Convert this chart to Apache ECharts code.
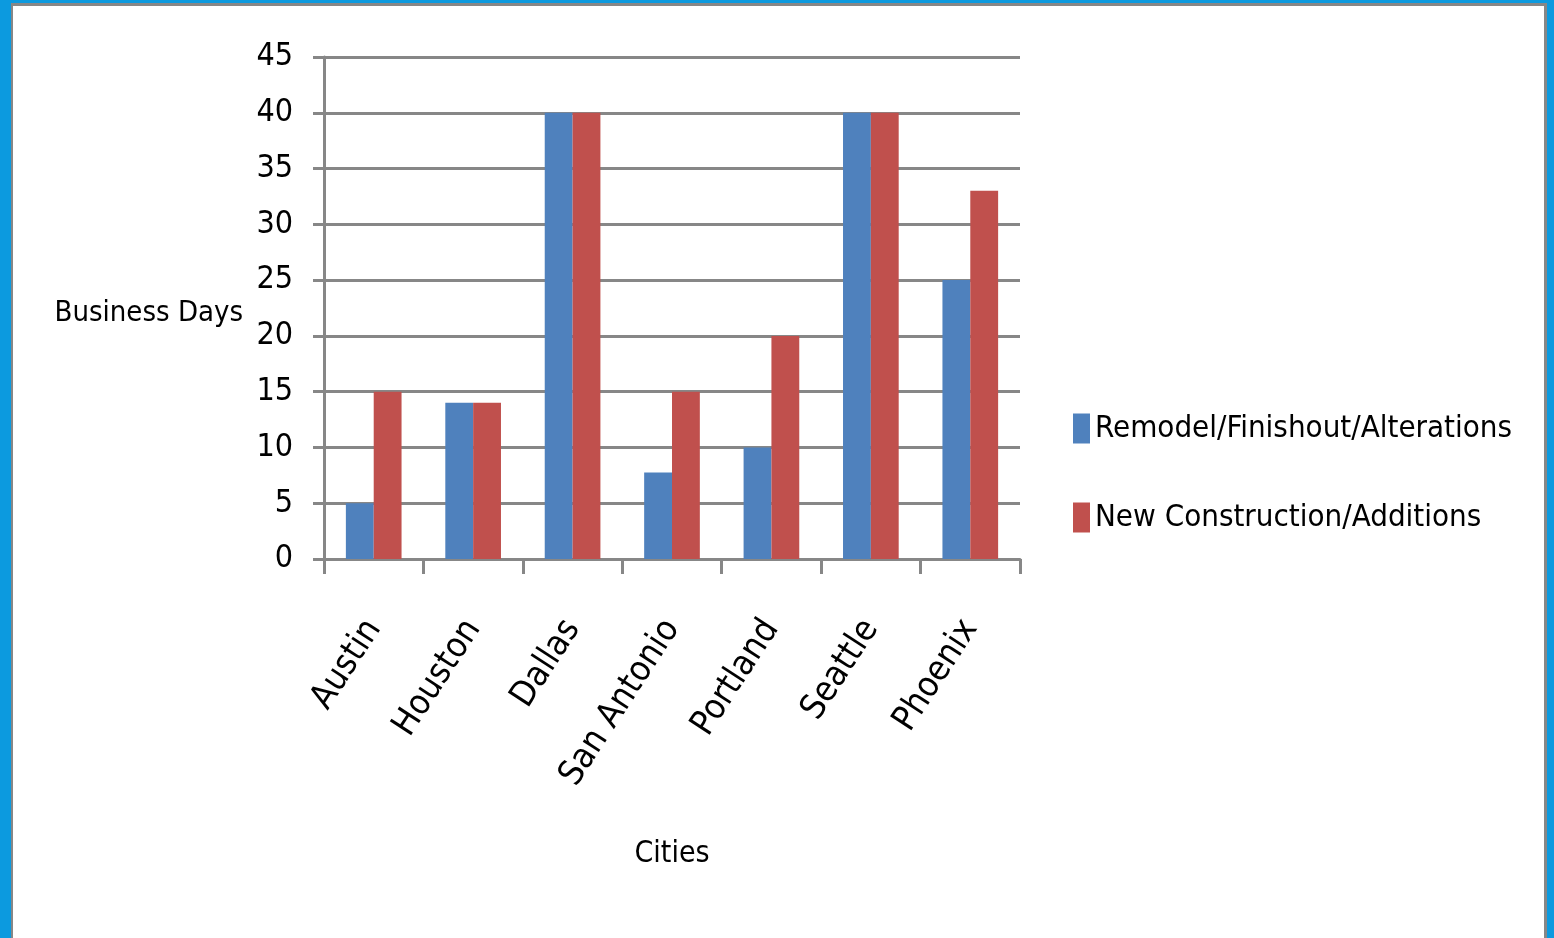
<!DOCTYPE html>
<html>
<head>
<meta charset="utf-8">
<script src="https://cdn.jsdelivr.net/npm/echarts@6/dist/echarts.min.js"></script>
<style>
  html, body { margin: 0; padding: 0; width: 1554px; height: 938px; overflow: hidden; background: #0C9ADF; }
  #frame { position: absolute; left: 11px; top: 3px; width: 1531px; height: 940px; background: #ffffff;
           border-left: 2px solid #878787; border-top: 3px solid #878787; border-right: 3px solid #878787; }
  #chart { position: absolute; left: 0; top: 0; width: 1554px; height: 938px; }
</style>
</head>
<body>
<div id="frame"></div>
<div id="chart"></div>
<script>
const categories = ['Austin', 'Houston', 'Dallas', 'San Antonio', 'Portland', 'Seattle', 'Phoenix'];
const seriesNames = ['Remodel/Finishout/Alterations', 'New Construction/Additions'];
const remodel = [5, 14, 40, 7.75, 10, 40, 25];
const newConstruction = [15, 14, 40, 15, 20, 40, 33];
const yTicks = { min: 0, max: 45, interval: 5 };

const FONT = "'DejaVu Sans Condensed', 'DejaVu Sans', sans-serif";
const GREY = '#878787';

const chart = echarts.init(document.getElementById('chart'), null, { renderer: 'canvas' });
chart.setOption({
  backgroundColor: 'transparent',
  animation: false,
  color: ['#4F81BD', '#C0504D'],
  grid: { left: 324, right: 534, top: 57, bottom: 379, containLabel: false },
  legend: {
    orient: 'vertical',
    left: 1073,
    top: 413,
    padding: 0,
    itemWidth: 17,
    itemHeight: 30,
    itemGap: 58,
    icon: 'rect',
    textStyle: { fontFamily: FONT, fontSize: 31, color: '#000' },
    data: seriesNames
  },
  xAxis: {
    type: 'category',
    data: categories,
    name: 'Cities',
    nameLocation: 'middle',
    nameGap: 280,
    nameTextStyle: { fontFamily: FONT, fontSize: 30, color: '#000' },
    axisLine: { lineStyle: { color: GREY, width: 3 } },
    axisTick: { show: true, length: 15, lineStyle: { color: GREY, width: 3 } },
    axisLabel: { rotate: 57, margin: 64, fontFamily: FONT, fontSize: 35, color: '#000', interval: 0 }
  },
  yAxis: {
    type: 'value',
    min: yTicks.min,
    max: yTicks.max,
    interval: yTicks.interval,
    name: 'Business Days',
    nameLocation: 'middle',
    nameRotate: 0,
    nameGap: 81,
    nameTextStyle: { fontFamily: FONT, fontSize: 29, color: '#000', align: 'right', verticalAlign: 'top', lineHeight: 10 },
    axisLine: { show: true, lineStyle: { color: GREY, width: 3 } },
    axisTick: { show: true, length: 11, lineStyle: { color: GREY, width: 3 } },
    axisLabel: { margin: 31, fontFamily: FONT, fontSize: 32, color: '#000' },
    splitLine: { show: true, lineStyle: { color: GREY, width: 3 } }
  },
  series: [
    { name: seriesNames[0], type: 'bar', data: remodel, barGap: '0%', barCategoryGap: '44%' },
    { name: seriesNames[1], type: 'bar', data: newConstruction, barGap: '0%', barCategoryGap: '44%' }
  ]
});
</script>
</body>
</html>
